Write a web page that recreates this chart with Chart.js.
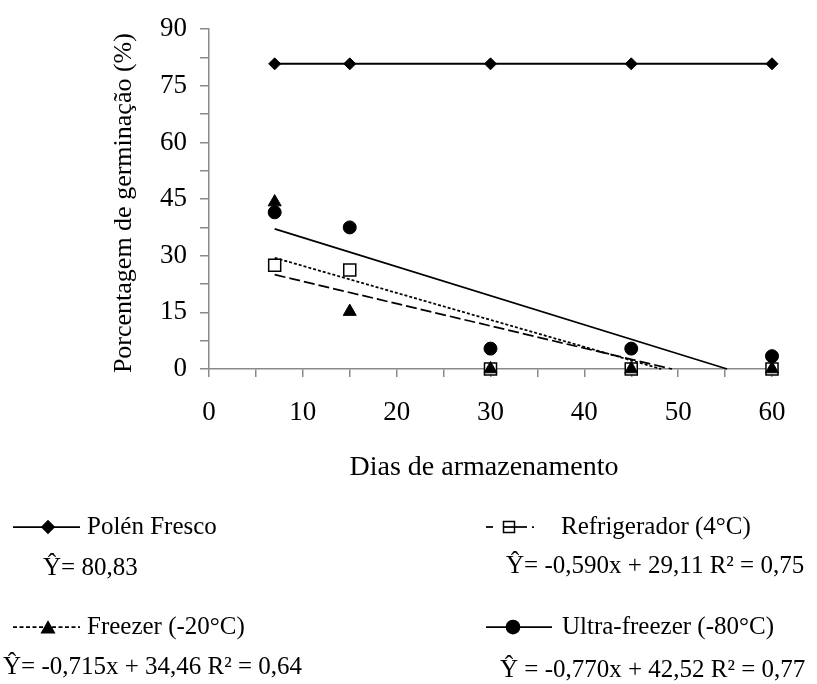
<!DOCTYPE html>
<html>
<head>
<meta charset="utf-8">
<script src="https://cdn.jsdelivr.net/npm/chart.js@4.4.0/dist/chart.umd.min.js"></script>
<style>
  html, body { margin: 0; padding: 0; background: #fff; }
  canvas { display: block; }
</style>
</head>
<body>
<canvas id="chart" width="817" height="684"></canvas>
<script>
// storage days and germination (%) per treatment
const dias = [7, 15, 30, 45, 60];
const polenFresco = [80.83, 80.83, 80.83, 80.83, 80.83];
const refrigerador = [27.5, 26.2, 0, 0, 0];
const freezer = [44.2, 15.2, 0, 0, 0];
const ultraFreezer = [41.5, 37.5, 5.4, 5.4, 3.4];

// fitted lines, y = a*x + b
const regRefrigerador = [-0.590, 29.11];
const regFreezer = [-0.715, 34.46];
const regUltra = [-0.770, 42.52];

const xTitle = 'Dias de armazenamento';
const yTitle = 'Porcentagem de germinação (%)';

const legendLeft = ['Polén Fresco', 'Ŷ= 80,83', 'Freezer (-20°C)', 'Ŷ= -0,715x + 34,46 R² = 0,64'];
const legendRight = ['Refrigerador (4°C)', 'Ŷ= -0,590x + 29,11 R² = 0,75', 'Ultra-freezer (-80°C)', 'Ŷ = -0,770x + 42,52 R² = 0,77'];

const FONT = "'Liberation Serif', 'Times New Roman', serif";
const AXIS = '#8a8a8a';

function pts(ys) {
  return dias.map((d, i) => ({ x: d, y: ys[i] }));
}

// regression segment from the first day down to where it meets zero
function fitLine(coef) {
  const [a, b] = coef;
  return [{ x: dias[0], y: a * dias[0] + b }, { x: -b / a, y: 0 }];
}

const titlesAndLegend = {
  id: 'titlesAndLegend',
  afterDraw(chart) {
    const ctx = chart.ctx;
    const area = chart.chartArea;
    ctx.save();
    ctx.fillStyle = '#000';
    ctx.strokeStyle = '#000';

    // axis titles
    ctx.textAlign = 'center';
    ctx.textBaseline = 'alphabetic';
    ctx.font = '28px ' + FONT;
    ctx.fillText(xTitle, 484, 475);
    ctx.font = '26px ' + FONT;
    ctx.save();
    ctx.translate(131, (area.top + area.bottom) / 2 + 4);
    ctx.rotate(-Math.PI / 2);
    ctx.fillText(yTitle, 0, 0);
    ctx.restore();

    // legend symbols
    ctx.lineWidth = 1.75;
    const seg = (x1, x2, y, dash) => {
      ctx.setLineDash(dash);
      ctx.beginPath();
      ctx.moveTo(x1, y);
      ctx.lineTo(x2, y);
      ctx.stroke();
      ctx.setLineDash([]);
    };
    const mark = (style, r, x, y) => {
      Chart.helpers.drawPoint(ctx, { pointStyle: style, radius: r, rotation: 0, borderWidth: 1 }, x, y);
    };

    seg(13, 80, 527, []);
    mark('rectRot', 6, 48, 527);
    seg(13, 80, 627, [4, 2.5]);
    mark('triangle', 7, 48, 629);

    // refrigerador: dash, open square crossed by the line, dash, dot
    seg(486, 493, 527, []);
    seg(503, 527, 527, []);
    seg(532, 534, 527, []);
    ctx.lineWidth = 1.5;
    ctx.beginPath();
    ctx.rect(503.5, 521.5, 11, 11);
    ctx.stroke();
    ctx.lineWidth = 1.75;
    seg(486, 552, 627, []);
    mark('circle', 6.5, 513, 627);

    // legend texts
    ctx.font = '25px ' + FONT;
    ctx.textAlign = 'left';
    ctx.textBaseline = 'middle';
    ctx.fillText(legendLeft[0], 87, 527);
    ctx.fillText(legendLeft[1], 43, 568);
    ctx.fillText(legendLeft[2], 87, 627);
    ctx.fillText(legendLeft[3], 3, 667);
    ctx.fillText(legendRight[0], 561, 527);
    ctx.fillText(legendRight[1], 506, 566);
    ctx.fillText(legendRight[2], 562, 627);
    ctx.fillText(legendRight[3], 500, 670);
    ctx.restore();
  }
};

Chart.defaults.font.family = FONT;
Chart.defaults.color = '#000';

new Chart(document.getElementById('chart'), {
  type: 'scatter',
  data: {
    datasets: [
      {
        label: 'Polén Fresco',
        data: pts(polenFresco),
        showLine: true,
        borderColor: '#000',
        borderWidth: 2,
        backgroundColor: '#000',
        pointStyle: 'rectRot',
        pointRadius: 6,
        pointBorderWidth: 1,
        order: 1
      },
      {
        label: 'Ultra-freezer (-80°C)',
        data: pts(ultraFreezer),
        showLine: false,
        borderColor: '#000',
        backgroundColor: '#000',
        pointStyle: 'circle',
        pointRadius: 6.5,
        pointBorderWidth: 1,
        order: 2
      },
      {
        label: 'Freezer (-20°C)',
        data: pts(freezer),
        showLine: false,
        borderColor: '#000',
        backgroundColor: '#000',
        pointStyle: 'triangle',
        pointRadius: 7.5,
        pointBorderWidth: 1,
        order: 3
      },
      {
        label: 'Refrigerador (4°C)',
        data: pts(refrigerador),
        showLine: false,
        borderColor: '#000',
        backgroundColor: '#fff',
        pointStyle: 'rect',
        pointRadius: 8.5,
        pointBorderWidth: 1.5,
        order: 4
      },
      {
        label: 'ajuste ultra',
        data: fitLine(regUltra),
        showLine: true,
        borderColor: '#000',
        borderWidth: 1.75,
        pointRadius: 0,
        order: 5
      },
      {
        label: 'ajuste freezer',
        data: fitLine(regFreezer),
        showLine: true,
        borderColor: '#000',
        borderWidth: 1.75,
        borderDash: [3, 2],
        pointRadius: 0,
        order: 6
      },
      {
        label: 'ajuste refrigerador',
        data: fitLine(regRefrigerador),
        showLine: true,
        borderColor: '#000',
        borderWidth: 1.75,
        borderDash: [11, 4],
        pointRadius: 0,
        order: 7
      }
    ]
  },
  options: {
    responsive: false,
    animation: false,
    clip: false,
    layout: { padding: { top: 23, right: 45, bottom: 255, left: 0 } },
    plugins: {
      legend: { display: false },
      tooltip: { enabled: false }
    },
    scales: {
      x: {
        type: 'linear',
        min: 0,
        max: 60,
        afterFit(scale) { scale.height = 60; },
        ticks: {
          stepSize: 5,
          autoSkip: false,
          maxRotation: 0,
          padding: 20,
          font: { size: 27 },
          callback: v => (v % 10 === 0 ? v : '')
        },
        grid: { drawOnChartArea: false, drawTicks: true, tickLength: 8, color: AXIS, lineWidth: 1.5 },
        border: { color: AXIS, width: 1.5 }
      },
      y: {
        min: 0,
        max: 90,
        afterFit(scale) { scale.width = 209; },
        ticks: {
          stepSize: 7.5,
          autoSkip: false,
          padding: 13,
          font: { size: 27 },
          callback: v => (v % 15 === 0 ? v : '')
        },
        grid: { drawOnChartArea: false, drawTicks: true, tickLength: 9, color: AXIS, lineWidth: 1.5 },
        border: { color: AXIS, width: 1.5 }
      }
    }
  },
  plugins: [titlesAndLegend]
});
</script>
</body>
</html>
